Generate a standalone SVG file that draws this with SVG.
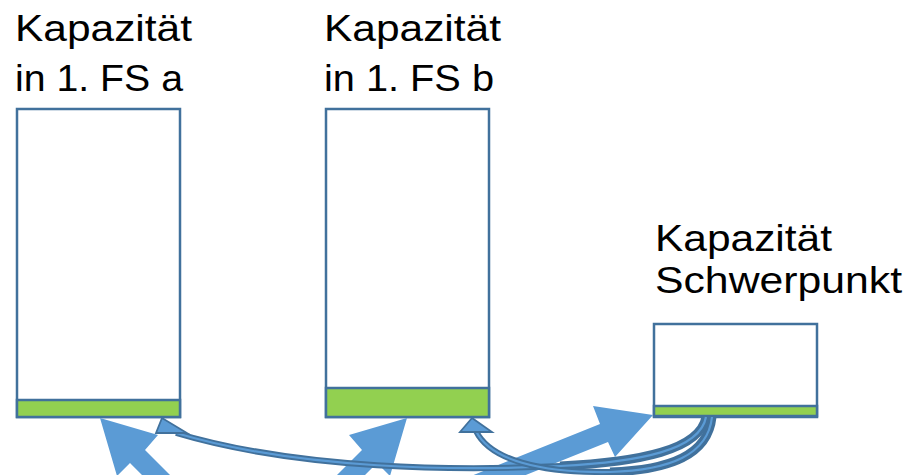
<svg xmlns="http://www.w3.org/2000/svg" width="917" height="475" viewBox="0 0 917 475">
<style>
.lbl{font-family:"Liberation Sans",Arial,sans-serif;font-size:37px;fill:#000}
.box{fill:#fff;stroke:#41719C;stroke-width:2.5}
.grn{fill:#92D050;stroke:#41719C;stroke-width:2.5}
.big{fill:#5B9BD5;stroke:none}
.bandO{fill:none;stroke:#41719C;stroke-width:6;stroke-linecap:butt}
.bandW{fill:none;stroke:#41719C;stroke-width:9;stroke-linecap:butt}
.bandI{fill:none;stroke:#5B9BD5;stroke-width:2.2;stroke-linecap:butt}
.head{fill:#5B9BD5;stroke:#41719C;stroke-width:1.8;stroke-linejoin:miter}
</style>
<rect width="917" height="475" fill="#fff"/>
<g id="node-fs-a">
<text class="lbl" x="15" y="41" textLength="177" lengthAdjust="spacingAndGlyphs">Kapazität</text>
<text class="lbl" x="15" y="91" textLength="168" lengthAdjust="spacingAndGlyphs">in 1. FS a</text>
<rect class="box" x="17" y="109" width="163" height="308"/>
<rect class="grn" x="17" y="400" width="163" height="17"/>
</g>
<g id="node-fs-b">
<text class="lbl" x="324" y="41" textLength="177" lengthAdjust="spacingAndGlyphs">Kapazität</text>
<text class="lbl" x="324" y="91" textLength="170" lengthAdjust="spacingAndGlyphs">in 1. FS b</text>
<rect class="box" x="326" y="109" width="163" height="308"/>
<rect class="grn" x="326" y="388" width="163" height="29"/>
</g>
<g id="node-schwerpunkt">
<text class="lbl" x="655" y="251" textLength="177" lengthAdjust="spacingAndGlyphs">Kapazität</text>
<text class="lbl" x="655" y="293" textLength="247" lengthAdjust="spacingAndGlyphs">Schwerpunkt</text>
<rect class="box" x="654" y="324" width="163" height="93"/>
<rect class="grn" x="654" y="406" width="163" height="10"/>
</g>
<g id="connectors">
<polygon class="big" points="100,418 158,435 145,450 195,500 180,513 130,463 117,476"/>
<polygon class="big" points="407,418 349,435 362,450 312,500 327,513 377,463 390,476"/>
<polygon class="big" points="653,415 593,406 600,424 424,495 476,495 608,442 615,457"/>
<path class="bandW" d="M706,417 C700,450 640,462 560,466"/>
<path class="bandO" d="M706,417 C700,450 640,462 560,466 C460,471 300,470 176,433"/>
<path class="bandI" d="M706,417 C700,450 640,462 560,466 C460,471 300,470 176,433"/>
<path class="bandW" d="M712,417 C708,455 670,470 610,472"/>
<path class="bandO" d="M712,417 C708,455 670,470 610,472 C540,473 490,460 476,431"/>
<path class="bandI" d="M712,417 C708,455 670,470 610,472 C540,473 490,460 476,431"/>
<polygon class="head" points="162,418 156,433 187,433"/>
<polygon class="head" points="472,418 460,432 492,432"/>
</g>
</svg>
